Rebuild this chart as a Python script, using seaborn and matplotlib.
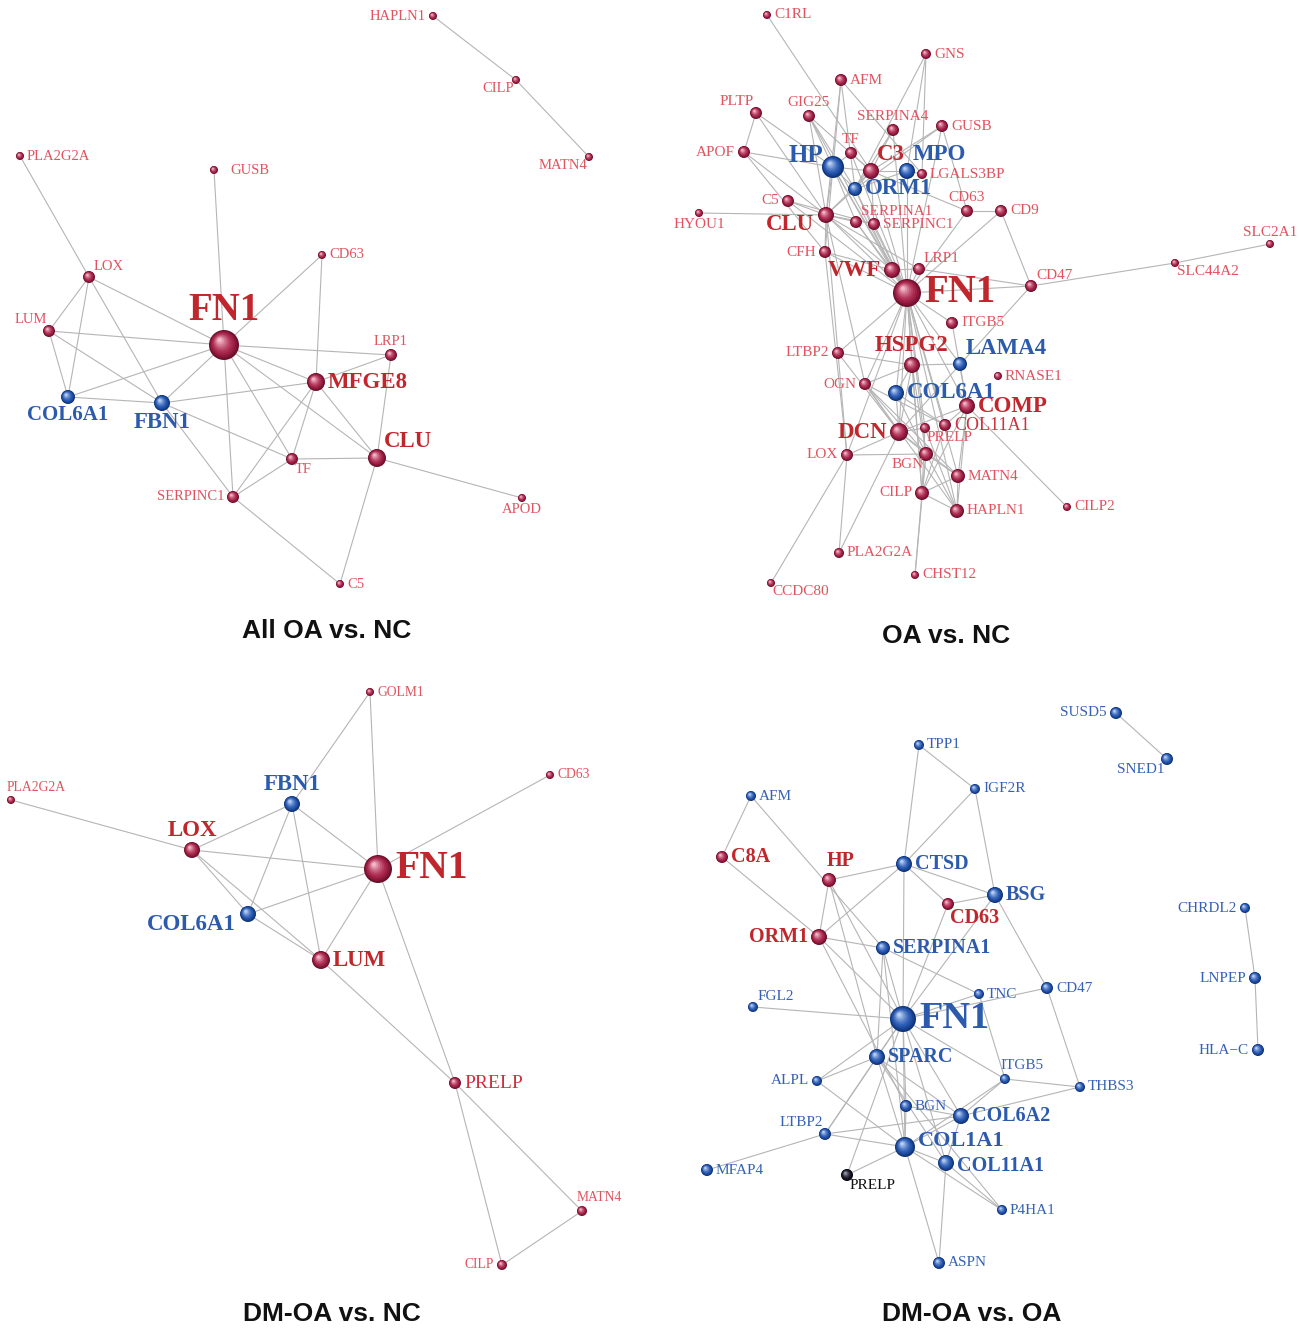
import numpy as np
import pandas as pd
import matplotlib
matplotlib.use("Agg")
import matplotlib.pyplot as plt
import matplotlib.colors as mcolors
import seaborn as sns
from matplotlib.collections import LineCollection

sns.set_theme(style="white")
plt.rcParams["font.family"] = ["Liberation Serif", "DejaVu Serif"]

# ---------------- data ----------------
titles = ["All OA vs. NC", "OA vs. NC", "DM-OA vs. NC", "DM-OA vs. OA"]
title_xy = [(327, 631), (946, 636), (332, 1314), (972, 1314)]

# node: name, x, y, radius, group(r/b/k), label side, label class
nodes_all = [
    ("HAPLN1", 433, 16, 4, "r", "l", "s"), ("CILP", 516, 80, 4, "r", "bl", "s"),
    ("MATN4", 589, 157, 4, "r", "bl", "s"), ("PLA2G2A", 20, 156, 4, "r", "r", "s"),
    ("GUSB", 214, 170, 4, "r", "r2", "s"), ("CD63", 322, 255, 4, "r", "r", "s"),
    ("LOX", 89, 277, 6, "r", "ar", "s"), ("LUM", 49, 331, 6, "r", "al", "s"),
    ("FN1", 224, 345, 15, "r", "a", "h"), ("LRP1", 391, 355, 6, "r", "a", "s"),
    ("MFGE8", 316, 382, 9, "r", "r", "B"), ("COL6A1", 68, 397, 7, "b", "b", "b"),
    ("FBN1", 162, 403, 8, "b", "b", "B"), ("CLU", 377, 458, 9, "r", "ar", "B"),
    ("TF", 292, 459, 6, "r", "br", "s"), ("SERPINC1", 233, 497, 6, "r", "l", "s"),
    ("APOD", 522, 498, 4, "r", "b", "s"), ("C5", 340, 584, 4, "r", "r", "s"),
]
edges_all = [
    ("HAPLN1", "CILP"), ("CILP", "MATN4"), ("PLA2G2A", "LOX"), ("GUSB", "FN1"),
    ("CD63", "FN1"), ("CD63", "MFGE8"), ("LOX", "LUM"), ("LOX", "COL6A1"),
    ("LOX", "FBN1"), ("LOX", "FN1"), ("LUM", "FN1"), ("LUM", "COL6A1"),
    ("LUM", "FBN1"), ("COL6A1", "FN1"), ("COL6A1", "FBN1"), ("FBN1", "FN1"),
    ("FBN1", "MFGE8"), ("FBN1", "TF"), ("FBN1", "SERPINC1"), ("FN1", "LRP1"),
    ("FN1", "MFGE8"), ("FN1", "TF"), ("FN1", "CLU"), ("FN1", "SERPINC1"),
    ("MFGE8", "LRP1"), ("MFGE8", "CLU"), ("MFGE8", "TF"), ("MFGE8", "SERPINC1"),
    ("LRP1", "CLU"), ("TF", "CLU"), ("TF", "SERPINC1"), ("CLU", "APOD"),
    ("CLU", "C5"), ("SERPINC1", "C5"),
]

nodes_oa = [
    ("C1RL", 767, 15, 4, "r", "r", "s"), ("GNS", 926, 54, 5, "r", "r", "s"),
    ("AFM", 841, 80, 6, "r", "r", "s"), ("PLTP", 756, 113, 6, "r", "al", "s"),
    ("GIG25", 809, 116, 6, "r", "a", "s"), ("SERPINA4", 893, 130, 6, "r", "a", "s"),
    ("GUSB", 942, 126, 6, "r", "r", "s"), ("TF", 851, 153, 6, "r", "a", "s"),
    ("APOF", 744, 152, 6, "r", "l", "s"), ("HP", 833, 167, 11, "b", "lu", "B"),
    ("C3", 871, 171, 8, "r", "ar", "b"), ("MPO", 907, 171, 8, "b", "ar", "b"),
    ("LGALS3BP", 922, 174, 5, "r", "r", "s"), ("ORM1", 855, 189, 7, "b", "r", "b"),
    ("C5", 788, 201, 6, "r", "l", "s"), ("CD63", 967, 211, 6, "r", "a", "s"),
    ("CD9", 1001, 211, 6, "r", "r", "s"), ("HYOU1", 699, 213, 4, "r", "b", "s"),
    ("CLU", 826, 215, 8, "r", "lb", "b"), ("SERPINA1", 856, 222, 6, "r", "ar", "s"),
    ("SERPINC1", 874, 224, 6, "r", "r", "s"), ("CFH", 825, 252, 6, "r", "l", "s"),
    ("VWF", 892, 270, 8, "r", "l", "b"), ("LRP1", 919, 269, 6, "r", "ar", "s"),
    ("CD47", 1031, 286, 6, "r", "ar", "s"), ("FN1", 907, 293, 14, "r", "r", "h"),
    ("SLC44A2", 1175, 263, 4, "r", "br", "s"), ("SLC2A1", 1270, 244, 4, "r", "a", "s"),
    ("ITGB5", 952, 323, 6, "r", "r", "s"), ("LTBP2", 838, 353, 6, "r", "l", "s"),
    ("HSPG2", 912, 365, 8, "r", "a", "b"), ("LAMA4", 960, 364, 7, "b", "ar", "b"),
    ("RNASE1", 998, 376, 4, "r", "r", "s"), ("OGN", 865, 384, 6, "r", "l", "s"),
    ("COL6A1", 896, 393, 8, "b", "r", "b"), ("COMP", 967, 406, 8, "r", "r", "b"),
    ("COL11A1", 945, 425, 6, "r", "r", "m"), ("PRELP", 925, 428, 5, "r", "br", "s"),
    ("DCN", 899, 432, 9, "r", "l", "b"), ("LOX", 847, 455, 6, "r", "l", "s"),
    ("BGN", 926, 454, 7, "r", "bl", "s"), ("MATN4", 958, 476, 7, "r", "r", "s"),
    ("CILP", 922, 493, 7, "r", "l", "s"), ("HAPLN1", 957, 511, 7, "r", "r", "s"),
    ("CILP2", 1067, 507, 4, "r", "r", "s"), ("PLA2G2A", 839, 553, 5, "r", "r", "s"),
    ("CHST12", 915, 575, 4, "r", "r", "s"), ("CCDC80", 771, 583, 4, "r", "br", "s"),
]
edges_oa = [
    ("C1RL", "C3"), ("GNS", "ORM1"), ("GNS", "MPO"), ("GNS", "LGALS3BP"),
    ("AFM", "CLU"), ("AFM", "HP"), ("AFM", "LGALS3BP"), ("AFM", "ORM1"),
    ("PLTP", "APOF"), ("PLTP", "HP"), ("PLTP", "CLU"),
    ("GIG25", "HP"), ("GIG25", "C3"), ("GIG25", "FN1"), ("GIG25", "ORM1"), ("GIG25", "CLU"),
    ("SERPINA4", "C3"), ("SERPINA4", "ORM1"), ("SERPINA4", "FN1"),
    ("GUSB", "ORM1"), ("GUSB", "C3"), ("GUSB", "FN1"), ("GUSB", "CD63"),
    ("TF", "HP"), ("TF", "C3"), ("TF", "FN1"),
    ("APOF", "HP"), ("APOF", "CLU"), ("APOF", "CFH"),
    ("HP", "C3"), ("HP", "ORM1"), ("HP", "CLU"), ("HP", "FN1"), ("HP", "VWF"),
    ("HP", "SERPINA1"), ("HP", "CFH"),
    ("C3", "MPO"), ("C3", "ORM1"), ("C3", "CLU"), ("C3", "FN1"), ("C3", "SERPINC1"), ("C3", "CD63"),
    ("MPO", "LGALS3BP"), ("MPO", "FN1"), ("MPO", "ORM1"),
    ("ORM1", "CLU"), ("ORM1", "FN1"), ("ORM1", "VWF"),
    ("C5", "CLU"), ("C5", "FN1"), ("C5", "SERPINC1"),
    ("CD63", "CD9"), ("CD63", "FN1"), ("CD9", "CD47"), ("CD9", "FN1"),
    ("HYOU1", "CLU"),
    ("CLU", "SERPINA1"), ("CLU", "SERPINC1"), ("CLU", "FN1"), ("CLU", "VWF"),
    ("CLU", "CFH"), ("CLU", "LRP1"), ("CLU", "LTBP2"), ("CLU", "OGN"),
    ("SERPINA1", "FN1"), ("SERPINC1", "FN1"), ("SERPINA1", "VWF"),
    ("CFH", "FN1"), ("CFH", "VWF"), ("CFH", "LOX"),
    ("VWF", "FN1"), ("VWF", "LRP1"), ("LRP1", "FN1"), ("LRP1", "CD47"),
    ("CD47", "FN1"), ("CD47", "SLC44A2"), ("SLC44A2", "SLC2A1"), ("CD47", "DCN"),
    ("FN1", "ITGB5"), ("FN1", "HSPG2"), ("FN1", "LAMA4"), ("FN1", "COL6A1"),
    ("FN1", "COMP"), ("FN1", "DCN"), ("FN1", "BGN"), ("FN1", "LTBP2"), ("FN1", "OGN"),
    ("FN1", "COL11A1"), ("FN1", "PRELP"), ("FN1", "MATN4"), ("FN1", "CILP"),
    ("FN1", "HAPLN1"), ("FN1", "LOX"),
    ("ITGB5", "COMP"), ("LTBP2", "HSPG2"), ("LTBP2", "LOX"), ("LTBP2", "DCN"),
    ("HSPG2", "LAMA4"), ("HSPG2", "COL6A1"), ("HSPG2", "DCN"), ("HSPG2", "OGN"),
    ("HSPG2", "BGN"), ("HSPG2", "CILP"), ("LAMA4", "COMP"),
    ("OGN", "DCN"), ("OGN", "BGN"), ("OGN", "MATN4"), ("OGN", "COL11A1"), ("OGN", "HAPLN1"),
    ("COL6A1", "DCN"), ("COL6A1", "BGN"), ("COL6A1", "COL11A1"),
    ("COMP", "COL11A1"), ("COMP", "DCN"), ("COMP", "CILP"), ("COMP", "HAPLN1"),
    ("COMP", "MATN4"), ("COMP", "CILP2"),
    ("DCN", "PRELP"), ("DCN", "BGN"), ("DCN", "LOX"), ("DCN", "PLA2G2A"), ("DCN", "MATN4"),
    ("LOX", "BGN"), ("LOX", "CCDC80"), ("LOX", "PLA2G2A"),
    ("BGN", "MATN4"), ("BGN", "CILP"), ("BGN", "HAPLN1"), ("BGN", "CHST12"),
    ("PRELP", "CILP"), ("PRELP", "HAPLN1"), ("MATN4", "CILP"), ("CILP", "HAPLN1"),
    ("MATN4", "HAPLN1"), ("COL11A1", "CILP"), ("CHST12", "CILP"),
]

nodes_dmnc = [
    ("GOLM1", 370, 692, 4, "r", "r", "s"), ("PLA2G2A", 11, 800, 4, "r", "aR", "s"),
    ("CD63", 550, 775, 4, "r", "r", "s"), ("FBN1", 292, 804, 8, "b", "a", "b"),
    ("LOX", 192, 850, 8, "r", "a", "b"), ("FN1", 378, 869, 14, "r", "r", "h"),
    ("COL6A1", 248, 914, 8, "b", "lb", "b"), ("LUM", 321, 960, 9, "r", "r", "b"),
    ("PRELP", 455, 1083, 6, "r", "r", "m"), ("MATN4", 582, 1211, 5, "r", "aR", "s"),
    ("CILP", 502, 1265, 5, "r", "l", "s"),
]
edges_dmnc = [
    ("PLA2G2A", "LOX"), ("GOLM1", "FBN1"), ("GOLM1", "FN1"), ("CD63", "FN1"),
    ("LOX", "FBN1"), ("LOX", "FN1"), ("LOX", "COL6A1"), ("LOX", "LUM"),
    ("FBN1", "FN1"), ("FBN1", "COL6A1"), ("FBN1", "LUM"), ("COL6A1", "FN1"),
    ("COL6A1", "LUM"), ("FN1", "LUM"), ("FN1", "PRELP"), ("LUM", "PRELP"),
    ("PRELP", "MATN4"), ("PRELP", "CILP"), ("CILP", "MATN4"),
]

nodes_dmoa = [
    ("SUSD5", 1116, 713, 6, "b", "l", "s"), ("SNED1", 1167, 759, 6, "b", "bl", "s"),
    ("TPP1", 919, 745, 5, "b", "r", "s"), ("IGF2R", 975, 789, 5, "b", "r", "s"),
    ("AFM", 751, 796, 5, "b", "r", "s"), ("C8A", 722, 857, 6, "r", "r", "b"),
    ("HP", 829, 880, 7, "r", "aR2", "b"), ("CTSD", 904, 864, 8, "b", "r", "b"),
    ("BSG", 995, 895, 8, "b", "r", "b"), ("CD63", 948, 904, 6, "r", "br", "b"),
    ("CHRDL2", 1245, 908, 5, "b", "l", "s"), ("ORM1", 819, 937, 8, "r", "l", "b"),
    ("SERPINA1", 883, 948, 7, "b", "r", "b"), ("LNPEP", 1255, 978, 6, "b", "l", "s"),
    ("CD47", 1047, 988, 6, "b", "r", "s"), ("TNC", 979, 994, 5, "b", "r", "s"),
    ("FGL2", 753, 1007, 5, "b", "ar", "s"), ("FN1", 903, 1019, 13, "b", "r", "h"),
    ("SPARC", 877, 1057, 8, "b", "r", "b"), ("HLA\u2212C", 1258, 1050, 6, "b", "l", "s"),
    ("ITGB5", 1005, 1079, 5, "b", "aR", "s"), ("ALPL", 817, 1081, 5, "b", "l", "s"),
    ("THBS3", 1080, 1087, 5, "b", "r", "s"), ("BGN", 906, 1106, 6, "b", "r", "s"),
    ("COL6A2", 961, 1116, 8, "b", "r", "b"), ("LTBP2", 825, 1134, 6, "b", "al", "s"),
    ("COL1A1", 905, 1147, 10, "b", "ru", "B"), ("COL11A1", 946, 1163, 8, "b", "rd", "b"),
    ("MFAP4", 707, 1170, 6, "b", "r", "s"), ("PRELP", 847, 1175, 6, "k", "br", "s"),
    ("P4HA1", 1002, 1210, 5, "b", "r", "s"), ("ASPN", 939, 1263, 6, "b", "r", "s"),
]
edges_dmoa = [
    ("SUSD5", "SNED1"), ("CHRDL2", "LNPEP"), ("LNPEP", "HLA\u2212C"),
    ("TPP1", "IGF2R"), ("TPP1", "CTSD"), ("IGF2R", "CTSD"), ("IGF2R", "BSG"),
    ("AFM", "C8A"), ("AFM", "SERPINA1"), ("C8A", "ORM1"),
    ("HP", "CTSD"), ("HP", "ORM1"), ("HP", "FN1"), ("HP", "SPARC"),
    ("CTSD", "ORM1"), ("CTSD", "BSG"), ("CTSD", "CD63"), ("CTSD", "FN1"),
    ("BSG", "CD63"), ("BSG", "CD47"), ("BSG", "FN1"), ("CD63", "FN1"),
    ("ORM1", "SERPINA1"), ("ORM1", "FN1"), ("ORM1", "BGN"),
    ("SERPINA1", "TNC"), ("SERPINA1", "FN1"), ("SERPINA1", "SPARC"), ("SERPINA1", "COL1A1"),
    ("TNC", "FN1"), ("CD47", "FN1"), ("CD47", "THBS3"), ("TNC", "ITGB5"),
    ("FGL2", "FN1"),
    ("FN1", "SPARC"), ("FN1", "ALPL"), ("FN1", "ITGB5"), ("FN1", "COL6A2"),
    ("FN1", "COL1A1"), ("FN1", "COL11A1"), ("FN1", "BGN"), ("FN1", "LTBP2"), ("FN1", "PRELP"),
    ("SPARC", "ALPL"), ("SPARC", "LTBP2"), ("SPARC", "COL1A1"), ("SPARC", "COL11A1"),
    ("SPARC", "P4HA1"), ("SPARC", "COL6A2"), ("ALPL", "COL1A1"),
    ("ITGB5", "THBS3"), ("ITGB5", "COL6A2"), ("ITGB5", "COL1A1"), ("THBS3", "COL6A2"),
    ("BGN", "COL6A2"), ("BGN", "COL1A1"),
    ("LTBP2", "COL6A2"), ("LTBP2", "COL1A1"), ("LTBP2", "MFAP4"),
    ("COL1A1", "COL11A1"), ("COL1A1", "PRELP"), ("COL1A1", "P4HA1"), ("COL1A1", "ASPN"),
    ("COL1A1", "COL6A2"), ("COL11A1", "P4HA1"), ("COL11A1", "ASPN"), ("COL11A1", "COL6A2"),
]

panels = [
    (nodes_all, edges_all, {"s": 10.5, "m": 12, "b": 15, "B": 16.5, "h": 28}),
    (nodes_oa, edges_oa, {"s": 11, "m": 13, "b": 16.5, "B": 18, "h": 28}),
    (nodes_dmnc, edges_dmnc, {"s": 9.8, "m": 14, "b": 16.5, "B": 16.5, "h": 28.5}),
    (nodes_dmoa, edges_dmoa, {"s": 11, "m": 12, "b": 14.5, "B": 16, "h": 27.5}),
]

# ---------------- styles ----------------
sphere_dark = {"r": "#6e0f2c", "b": "#0f3478", "k": "#03030a"}
sphere_light = {"r": "#f2b6c6", "b": "#b9d0f5", "k": "#9a9ab0"}
sphere_mid = {"r": "#a8234a", "b": "#2556b0", "k": "#1a1a28"}
label_col = {("r", "s"): "#e0535f", ("r", "m"): "#cf3040", ("r", "b"): "#c0272d",
             ("r", "B"): "#c0272d", ("r", "h"): "#c0272d",
             ("b", "s"): "#3562b5", ("b", "m"): "#2c5aac", ("b", "b"): "#2c5aac",
             ("b", "B"): "#2c5aac", ("b", "h"): "#2c5aac",
             ("k", "s"): "#111111"}

W, H = 1301, 1329
fig = plt.figure(figsize=(W / 100, H / 100), dpi=100)
ax = fig.add_axes([0, 0, 1, 1])
PT = 0.72  # points per pixel


def blend(c1, c2, t):
    a = np.array(mcolors.to_rgb(c1))
    b = np.array(mcolors.to_rgb(c2))
    return mcolors.to_hex(a * (1 - t) + b * t)


def label_pos(x, y, r, side):
    if side == "r":
        return x + r + 3, y, "left", "center"
    if side == "ru":
        return x + r + 3, y - 6, "left", "center"
    if side == "rd":
        return x + r + 3, y + 3, "left", "center"
    if side == "r2":
        return x + r + 12, y, "left", "center"
    if side == "l":
        return x - r - 3, y, "right", "center"
    if side == "lu":
        return x - r + 1, y - r, "right", "center"
    if side == "lb":
        return x - r - 4, y + r + 2, "right", "center"
    if side == "a":
        return x, y - r - 1, "center", "bottom"
    if side == "b":
        return x, y + r + 1, "center", "top"
    if side == "ar":
        return x + 0.5 * r + 2, y - 0.7 * r, "left", "bottom"
    if side == "al":
        return x - 0.3 * r, y - 0.8 * r, "right", "bottom"
    if side == "aR":
        return x - r, y - r - 2, "left", "bottom"
    if side == "aR2":
        return x - 0.4 * r, y - r - 2, "left", "bottom"
    if side == "br":
        return x + 0.4 * r, y + 0.6 * r, "left", "top"
    if side == "bl":
        return x - 0.4 * r, y + 0.6 * r, "right", "top"
    return x + r + 3, y, "left", "center"


for nodes, edges, fs in panels:
    df = pd.DataFrame(nodes, columns=["name", "x", "y", "r", "grp", "side", "cls"])
    pos = {n: (x, y) for n, x, y in zip(df["name"], df["x"], df["y"])}
    segs = [[pos[a], pos[b]] for a, b in edges]
    ax.add_collection(LineCollection(segs, colors="#b5b5b5", linewidths=0.8, zorder=1))

    # sphere shading as stacked seaborn scatter layers
    nl = 9
    for i in range(nl):
        t = i / (nl - 1)
        lay = df.copy()
        scale = 1.0 - 0.85 * t
        lay["lx"] = lay["x"] - 0.28 * t * lay["r"]
        lay["ly"] = lay["y"] - 0.32 * t * lay["r"]
        lay["s"] = (2 * lay["r"] * scale * PT) ** 2
        if t < 0.3:
            cols = [blend(sphere_dark[g], sphere_mid[g], t / 0.3) for g in lay["grp"]]
        else:
            cols = [blend(sphere_mid[g], sphere_light[g], ((t - 0.3) / 0.7) ** 1.3) for g in lay["grp"]]
        lay["col"] = cols
        sns.scatterplot(data=lay, x="lx", y="ly", hue="col", palette={c: c for c in set(cols)},
                        size="s", sizes={v: v for v in lay["s"].unique()}, legend=False,
                        linewidth=0, ax=ax, zorder=3 + i)

    for _, row in df.iterrows():
        tx, ty, ha, va = label_pos(row.x, row.y, row.r, row.side)
        weight = "bold" if row.cls in ("b", "B", "h") else "normal"
        col = label_col.get((row.grp, row.cls), "#111111")
        ax.text(tx, ty, row["name"], ha=ha, va=va, fontsize=fs[row.cls], color=col,
                fontweight=weight, zorder=20)

for t, (x, y) in zip(titles, title_xy):
    ax.text(x, y, t, ha="center", va="center", fontsize=19, fontweight="bold",
            family=["Liberation Sans", "DejaVu Sans"], color="#111111")

ax.set_xlim(0, W)
ax.set_ylim(H, 0)
ax.axis("off")
fig.savefig("out.png", dpi=100, facecolor="white")
